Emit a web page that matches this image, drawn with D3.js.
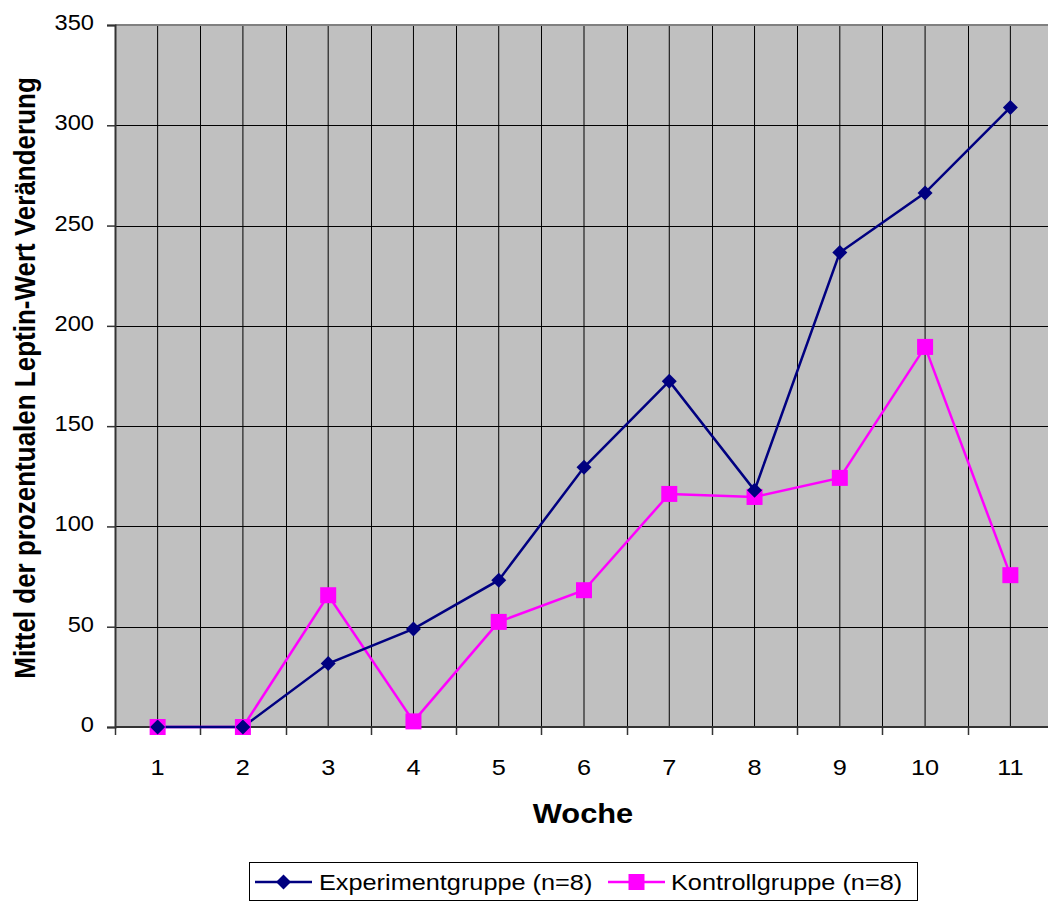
<!DOCTYPE html>
<html>
<head>
<meta charset="utf-8">
<script src="https://cdn.jsdelivr.net/npm/d3@7"></script>
<style>
  html, body { margin: 0; padding: 0; background: #fff; }
  svg { display: block; font-family: "Liberation Sans", Arial, sans-serif; }
</style>
</head>
<body>
<svg id="chart" width="1048" height="901"></svg>
<script>
// Wochen 1–11
const weeks = ["1", "2", "3", "4", "5", "6", "7", "8", "9", "10", "11"];
// Mittlere prozentuale Leptin-Wert Veränderung
const experimentValues = [0, 0, 31.6, 48.9, 73.2, 129.5, 172.4, 118, 236.6, 266.3, 308.9];
const kontrollValues   = [0, 0, 65.7, 2.8, 52.4, 68.2, 116.2, 114.7, 124.2, 189.5, 75.7];
const yTicks = [0, 50, 100, 150, 200, 250, 300, 350];

const seriesNames = ["Experimentgruppe (n=8)", "Kontrollgruppe (n=8)"];
const seriesColors = ["#000080", "#FF00FF"];

const svg = d3.select("#chart");
const plot = { left: 115, top: 25, right: 1053, bottom: 727 };

const x = d3.scaleBand().domain(weeks).range([plot.left, plot.right]).padding(0);
const y = d3.scaleLinear().domain([0, 350]).range([plot.bottom, plot.top]);

// text helper: places text at (tx, ty), widened horizontally by sx
function label(parent, tx, ty, str, opts) {
  const sx = opts.sx || 1.15;
  return parent.append("text")
    .attr("transform", `translate(${tx},${ty}) scale(${sx},1)`)
    .attr("text-anchor", opts.anchor || "start")
    .attr("font-size", opts.size)
    .attr("font-weight", opts.weight || "normal")
    .attr("fill", "#000")
    .text(str);
}

// plot background
svg.append("rect")
  .attr("x", plot.left).attr("y", plot.top)
  .attr("width", plot.right - plot.left).attr("height", plot.bottom - plot.top)
  .attr("fill", "#C0C0C0");

const grid = svg.append("g");
// vertical grid: category boundaries and centres
weeks.forEach((w, i) => {
  const xb = x(w);
  if (i > 0) {
    grid.append("line")
      .attr("x1", Math.round(xb) + 0.5).attr("x2", Math.round(xb) + 0.5)
      .attr("y1", plot.top).attr("y2", plot.bottom)
      .attr("stroke", "#000").attr("stroke-width", 1);
  }
  const xc = xb + x.bandwidth() / 2;
  grid.append("line")
    .attr("x1", xc).attr("x2", xc)
    .attr("y1", plot.top).attr("y2", plot.bottom)
    .attr("stroke", "#000").attr("stroke-width", 1);
});
// horizontal grid
yTicks.forEach(t => {
  if (t === 0 || t === 350) return;
  grid.append("line")
    .attr("x1", plot.left).attr("x2", plot.right)
    .attr("y1", Math.round(y(t)) + 0.5).attr("y2", Math.round(y(t)) + 0.5)
    .attr("stroke", "#000").attr("stroke-width", 1);
});
// top border
svg.append("line")
  .attr("x1", plot.left).attr("x2", plot.right)
  .attr("y1", plot.top).attr("y2", plot.top)
  .attr("stroke", "#808080").attr("stroke-width", 2);

// y axis
const yAxis = svg.append("g")
  .attr("transform", `translate(${plot.left},0)`)
  .call(d3.axisLeft(y).tickValues(yTicks).tickSize(8).tickFormat(""));
yAxis.select(".domain").attr("stroke", "#333").attr("stroke-width", 2);
yAxis.selectAll(".tick line").attr("stroke", "#333").attr("stroke-width", 1.5);
yTicks.forEach(t => label(svg, 94, y(t) + 5, d3.format("d")(t), { size: 21.5, sx: 1.1, anchor: "end" }));

// x axis: ticks at category boundaries
const xAxisG = svg.append("g").attr("transform", `translate(0,${plot.bottom})`);
xAxisG.append("line")
  .attr("x1", plot.left).attr("x2", plot.right)
  .attr("y1", 0).attr("y2", 0)
  .attr("stroke", "#333").attr("stroke-width", 2);
weeks.forEach(w => {
  const xb = Math.round(x(w)) + 0.5;
  xAxisG.append("line")
    .attr("x1", xb).attr("x2", xb).attr("y1", 0).attr("y2", 8)
    .attr("stroke", "#333").attr("stroke-width", 1.5);
  label(xAxisG, x(w) + x.bandwidth() / 2, 48, w, { size: 22, anchor: "middle" });
});

// axis titles
label(svg, 583, 823, "Woche", { size: 28, sx: 1.1, weight: "bold", anchor: "middle" });
svg.append("text")
  .attr("transform", `translate(35,378) scale(1.15,1) rotate(-90)`)
  .attr("text-anchor", "middle").attr("font-size", 26).attr("font-weight", "bold")
  .text("Mittel der prozentualen Leptin-Wert Veränderung");

// series
const cx = w => x(w) + x.bandwidth() / 2;
const lineGen = d3.line().x((d, i) => cx(weeks[i])).y(d => y(d));

svg.append("path").datum(kontrollValues)
  .attr("d", lineGen).attr("fill", "none")
  .attr("stroke", seriesColors[1]).attr("stroke-width", 2.5);
svg.append("path").datum(experimentValues)
  .attr("d", lineGen).attr("fill", "none")
  .attr("stroke", seriesColors[0]).attr("stroke-width", 2.5);

const sq = 16, dm = 7.5;
svg.append("g").selectAll("rect").data(kontrollValues).join("rect")
  .attr("x", (d, i) => cx(weeks[i]) - sq / 2).attr("y", d => y(d) - sq / 2)
  .attr("width", sq).attr("height", sq).attr("fill", seriesColors[1]);
svg.append("g").selectAll("path").data(experimentValues).join("path")
  .attr("d", (d, i) => {
    const px = cx(weeks[i]), py = y(d);
    return `M${px},${py - dm}L${px + dm},${py}L${px},${py + dm}L${px - dm},${py}Z`;
  })
  .attr("fill", seriesColors[0]);

// legend
const lg = svg.append("g");
lg.append("rect").attr("x", 249.5).attr("y", 862.5).attr("width", 668).attr("height", 38)
  .attr("fill", "#fff").attr("stroke", "#000").attr("stroke-width", 1);
const legendItems = [
  { name: seriesNames[0], color: seriesColors[0], x0: 255, tx: 319, marker: "diamond" },
  { name: seriesNames[1], color: seriesColors[1], x0: 608, tx: 671, marker: "square" }
];
legendItems.forEach(it => {
  const ly = 882;
  lg.append("line").attr("x1", it.x0).attr("x2", it.x0 + 57).attr("y1", ly).attr("y2", ly)
    .attr("stroke", it.color).attr("stroke-width", 2.5);
  const mx = it.x0 + 28.5;
  if (it.marker === "diamond") {
    lg.append("path").attr("d", `M${mx},${ly - dm}L${mx + dm},${ly}L${mx},${ly + dm}L${mx - dm},${ly}Z`)
      .attr("fill", it.color);
  } else {
    lg.append("rect").attr("x", mx - sq / 2).attr("y", ly - sq / 2).attr("width", sq).attr("height", sq)
      .attr("fill", it.color);
  }
  label(lg, it.tx, ly + 8, it.name, { size: 22 });
});
</script>
</body>
</html>
